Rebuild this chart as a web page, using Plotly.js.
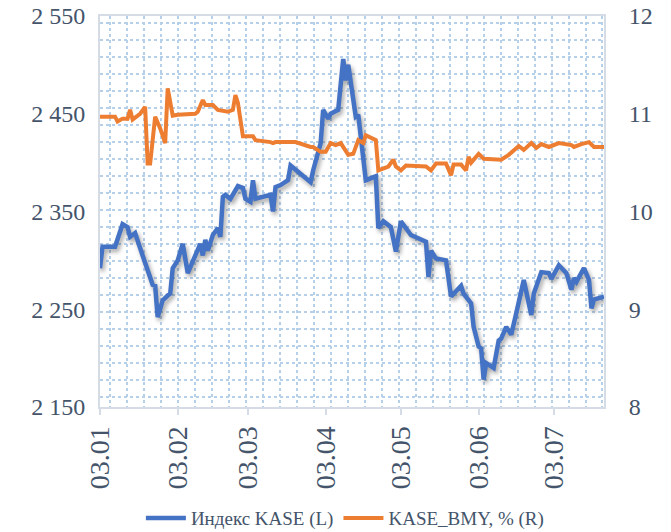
<!DOCTYPE html>
<html><head><meta charset="utf-8">
<script src="https://cdn.plot.ly/plotly-3.0.1.min.js"></script>
<style>
html,body{margin:0;padding:0;background:#fff;}
#chart{width:671px;height:532px;}
</style>
</head><body><div id="chart"></div>
<script>
// Индекс KASE (left axis)
const kaseDates = ['2019-01-03','2019-01-04','2019-01-09','2019-01-12','2019-01-14','2019-01-15','2019-01-17','2019-01-18','2019-01-20','2019-01-24','2019-01-25','2019-01-26','2019-01-28','2019-01-30','2019-01-31',
'2019-02-01','2019-02-03','2019-02-05','2019-02-07','2019-02-09','2019-02-12','2019-02-13','2019-02-14','2019-02-15','2019-02-17','2019-02-19','2019-02-20','2019-02-21','2019-02-22','2019-02-24','2019-02-27',
'2019-03-01','2019-03-02','2019-03-04','2019-03-05','2019-03-06','2019-03-12','2019-03-13','2019-03-14','2019-03-16','2019-03-19','2019-03-20','2019-03-28','2019-03-29',
'2019-04-01','2019-04-02','2019-04-04','2019-04-05','2019-04-08','2019-04-10','2019-04-11','2019-04-12','2019-04-14','2019-04-15','2019-04-16','2019-04-19','2019-04-23','2019-04-24','2019-04-26','2019-04-29',
'2019-05-01','2019-05-03','2019-05-07','2019-05-13','2019-05-14','2019-05-15','2019-05-17','2019-05-21','2019-05-23','2019-05-27','2019-05-28','2019-05-31',
'2019-06-01','2019-06-03','2019-06-04','2019-06-05','2019-06-06','2019-06-09','2019-06-11','2019-06-12','2019-06-14','2019-06-16','2019-06-18','2019-06-21','2019-06-24','2019-06-25','2019-06-28',
'2019-07-01','2019-07-02','2019-07-05','2019-07-08','2019-07-10','2019-07-11','2019-07-12','2019-07-15','2019-07-17','2019-07-18','2019-07-19','2019-07-23'];
const kaseValues = [2292,2314,2314,2337,2334,2324,2328,2321,2305,2275,2274,2242,2259,2264,2266,
2292,2300,2317,2287,2299,2317,2305,2321,2310,2326,2333,2324,2365,2367,2363,2376,
2374,2363,2360,2382,2363,2367,2350,2375,2377,2382,2397,2380,2392,
2420,2454,2445,2450,2454,2506,2484,2500,2464,2447,2449,2382,2386,2333,2340,2334,
2309,2340,2326,2319,2283,2310,2302,2300,2263,2274,2266,2256,
2232,2212,2210,2178,2195,2190,2218,2220,2232,2224,2246,2280,2244,2266,2288,
2287,2281,2295,2287,2270,2282,2278,2292,2280,2251,2260,2263];

// KASE_BMY, % (right axis)
const bmyDates = ['2019-01-03','2019-01-09','2019-01-10','2019-01-12','2019-01-14','2019-01-15','2019-01-16','2019-01-19','2019-01-21','2019-01-22','2019-01-23','2019-01-25','2019-01-27','2019-01-29','2019-01-30',
'2019-02-01','2019-02-03','2019-02-07','2019-02-10','2019-02-11','2019-02-13','2019-02-14','2019-02-17','2019-02-19','2019-02-23','2019-02-25','2019-02-26','2019-02-27',
'2019-03-01','2019-03-05','2019-03-06','2019-03-12','2019-03-13','2019-03-14','2019-03-22','2019-03-28','2019-03-29',
'2019-04-01','2019-04-03','2019-04-05','2019-04-07','2019-04-09','2019-04-10','2019-04-12','2019-04-14','2019-04-15','2019-04-16','2019-04-18','2019-04-19','2019-04-23','2019-04-24','2019-04-28','2019-04-30',
'2019-05-01','2019-05-03','2019-05-05','2019-05-13','2019-05-15','2019-05-17','2019-05-21','2019-05-23','2019-05-24','2019-05-27','2019-05-29','2019-05-30','2019-05-31',
'2019-06-03','2019-06-05','2019-06-11','2019-06-12','2019-06-15','2019-06-19','2019-06-21','2019-06-24','2019-06-26','2019-06-28',
'2019-07-01','2019-07-05','2019-07-10','2019-07-11','2019-07-14','2019-07-17','2019-07-19','2019-07-23'];
const bmyValues = [10.97,10.97,10.92,10.95,10.95,11.04,10.94,11.00,11.07,10.49,10.49,10.97,10.85,10.70,11.26,
10.98,10.99,10.99,11.00,11.02,11.14,11.09,11.09,11.04,11.02,11.04,11.19,11.11,
10.77,10.77,10.73,10.71,10.70,10.71,10.71,10.66,10.66,
10.61,10.61,10.70,10.68,10.70,10.66,10.58,10.59,10.65,10.73,10.70,10.78,10.73,10.42,10.46,10.53,
10.46,10.42,10.47,10.46,10.42,10.49,10.49,10.37,10.48,10.48,10.42,10.56,10.50,
10.59,10.54,10.54,10.53,10.58,10.67,10.63,10.70,10.65,10.69,
10.66,10.70,10.68,10.66,10.69,10.71,10.66,10.66];

const seriesNames = ['Индекс KASE (L)', 'KASE_BMY, % (R)'];
const xRange = ['2019-01-03', '2019-07-23'];
const leftRange = [2150, 2550];
const rightRange = [8, 12];

const textColor = '#44546a';
const fontFamily = 'Times';
const borderColor = '#d6dce5';
const gridColor = '#b7d0ea';

const traces = [
  {x: kaseDates, y: kaseValues, name: seriesNames[0], type: 'scatter', mode: 'lines',
   line: {color: '#4472c4', width: 4.5}, yaxis: 'y'},
  {x: bmyDates, y: bmyValues, name: seriesNames[1], type: 'scatter', mode: 'lines',
   line: {color: '#ed7d31', width: 4}, yaxis: 'y2'}
];

const layout = {
  width: 671, height: 532,
  margin: {l: 100, r: 66.5, t: 16, b: 125, autoexpand: false},
  paper_bgcolor: '#ffffff', plot_bgcolor: '#ffffff',
  separators: '. ',
  font: {family: fontFamily, color: textColor, size: 20},
  showlegend: true,
  legend: {orientation: 'h', xref: 'container', yref: 'container',
           x: 0.514, xanchor: 'center', y: 0.026, yanchor: 'middle',
           font: {family: fontFamily, size: 19, color: textColor}, itemwidth: 40,
           traceorder: 'normal', bgcolor: 'rgba(0,0,0,0)'},
  xaxis: {
    type: 'date', range: xRange, tickformat: '%d.%m', dtick: 'M1', tick0: '2019-01-03',
    tickangle: -90, ticks: 'outside', ticklen: 6, tickcolor: borderColor, tickwidth: 1.5,
    showline: true, linecolor: borderColor, linewidth: 2, mirror: true,
    showgrid: false, zeroline: false, automargin: false,
    tickfont: {family: fontFamily, size: 28, color: textColor},
    minor: {showgrid: true, tick0: '2019-01-06 23:30', dtick: 585187200,
            gridcolor: gridColor, griddash: 'dot', gridwidth: 1.5, ticks: ''}
  },
  yaxis: {
    range: leftRange, dtick: 100, tick0: 2150, separatethousands: true,
    showline: true, linecolor: borderColor, linewidth: 2,
    showgrid: false, zeroline: false, ticks: '', automargin: false,
    ticklabelstandoff: 8,
    tickfont: {family: fontFamily, size: 24, color: textColor},
    minor: {showgrid: true, tick0: 2160.5, dtick: 17.39,
            gridcolor: gridColor, griddash: 'dot', gridwidth: 1.5, ticks: ''}
  },
  yaxis2: {
    range: rightRange, dtick: 1, overlaying: 'y', side: 'right',
    showline: true, linecolor: borderColor, linewidth: 2,
    showgrid: false, zeroline: false, ticks: '', automargin: false,
    ticklabelstandoff: 18,
    tickfont: {family: fontFamily, size: 24, color: textColor}
  }
};

Plotly.newPlot('chart', traces, layout, {displayModeBar: false}).then(function (gd) {
  const blue = gd.querySelectorAll('.scatterlayer .trace')[0];
  if (blue) {
    const p = blue.querySelector('path.js-line');
    if (p) p.style.filter = 'drop-shadow(2px 3px 2px rgba(0,0,0,0.35))';
  }
});
</script>
</body></html>
